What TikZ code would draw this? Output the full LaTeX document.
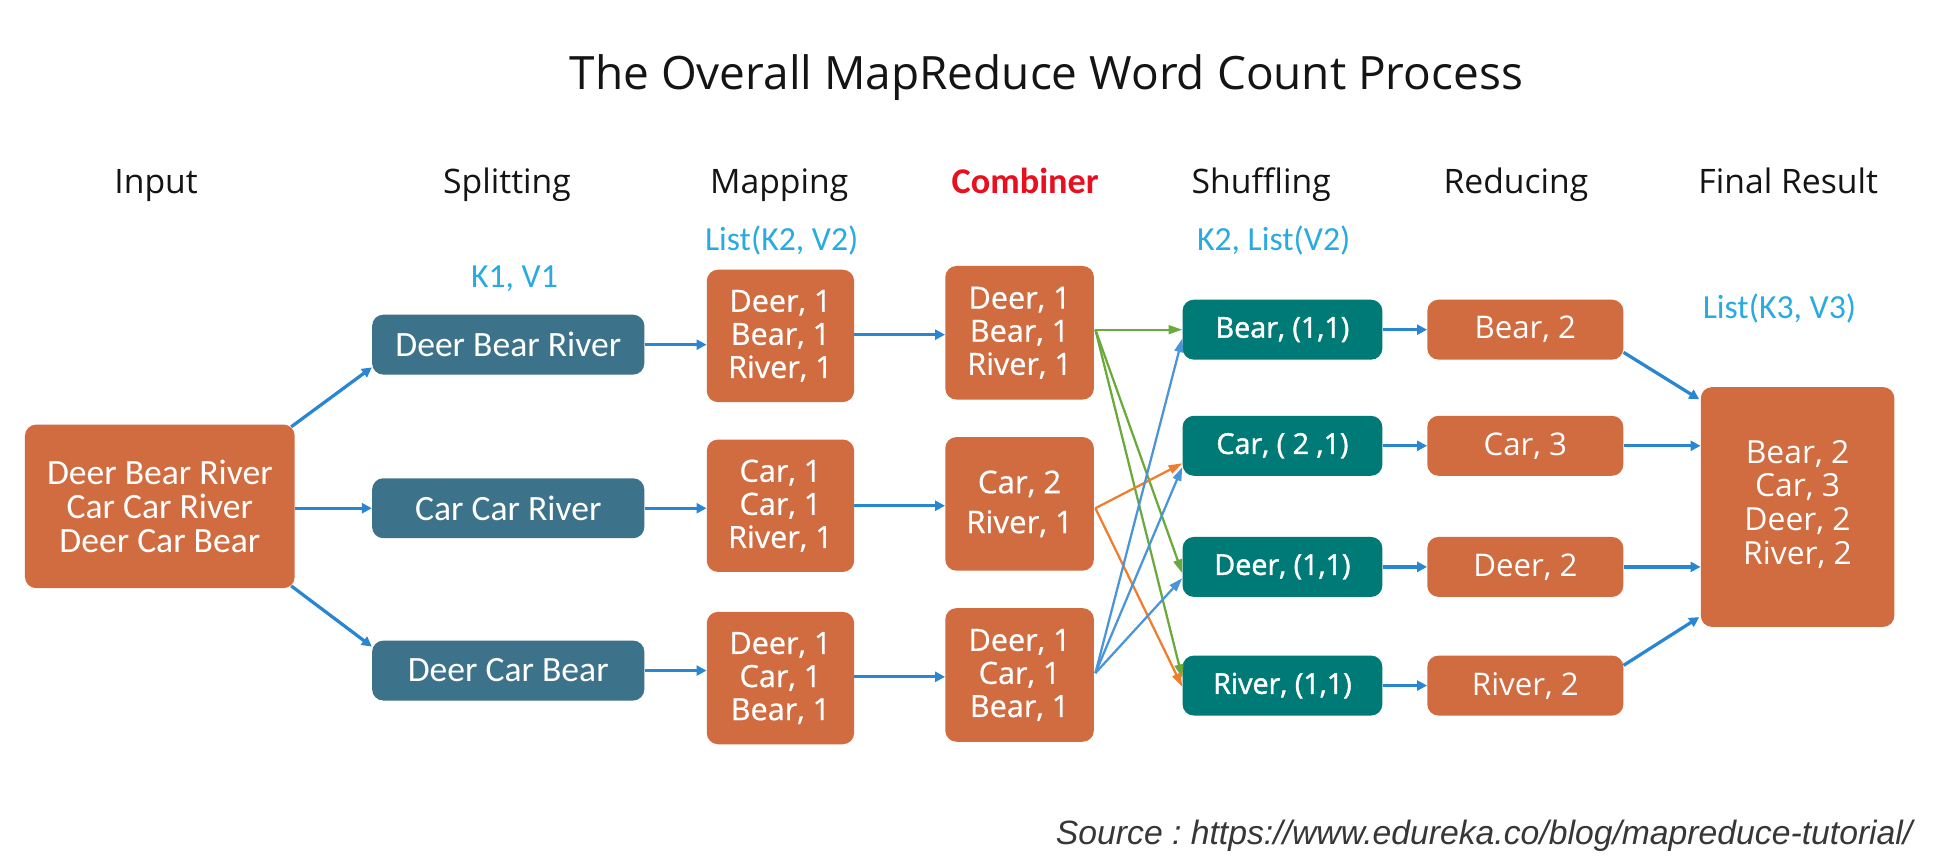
\documentclass[tikz,border=0pt]{standalone}
\usepackage{fontspec}
\setmainfont{Open Sans}
\newfontfamily\carl{Carlito}
\newfontfamily\osmed[FakeBold=0.6]{Open Sans}
\newfontfamily\ossemi[FakeBold=1.4]{Open Sans}
\newfontfamily\srcfont{Liberation Sans}
\usetikzlibrary{arrows.meta}
\definecolor{boxorange}{RGB}{209,107,64}
\definecolor{splitblue}{RGB}{61,114,139}
\definecolor{shufteal}{RGB}{0,122,118}
\definecolor{arrowblue}{RGB}{40,134,210}
\definecolor{crossblue}{RGB}{74,148,218}
\definecolor{crossgreen}{RGB}{106,170,58}
\definecolor{crossorange}{RGB}{240,125,45}
\definecolor{labelblue}{RGB}{41,171,226}
\definecolor{combred}{RGB}{232,16,31}
\definecolor{titlegray}{RGB}{20,20,20}
\tikzset{
  box/.style={rounded corners=9pt, inner sep=0pt, align=center, text=white},
  inbox/.style={box, fill=boxorange, font=\carl\fontsize{28.5}{27}\selectfont},
  splitbox/.style={box, fill=splitblue, minimum width=218pt, minimum height=48pt, font=\carl\fontsize{28.5}{27}\selectfont},
  mapbox/.style={box, fill=boxorange, minimum width=118pt, minimum height=106pt, font=\osmed\fontsize{24.5}{26.5}\selectfont},
  shufbox/.style={box, fill=shufteal, minimum width=160pt, minimum height=48pt, font=\ossemi\fontsize{23}{26}\selectfont},
  redbox/.style={box, fill=boxorange, minimum width=157pt, minimum height=48pt, font=\fontsize{25}{27}\selectfont},
  header/.style={anchor=base, text=titlegray, font=\fontsize{27}{30}\selectfont},
  kvlabel/.style={anchor=base, text=labelblue, font=\carl\fontsize{27}{30}\selectfont},
  flow/.style={draw=arrowblue, line width=2.6pt, -{Triangle[length=8pt,width=8pt]}},
  cross/.style={line width=1.8pt, -{Triangle[length=11pt,width=7pt]}}
}
\begin{document}
\begin{tikzpicture}[x=1pt,y=-1pt]
\useasboundingbox (0,0) rectangle (1568,685.5);
\fill[white] (0,0) rectangle (1568,685.5);

% title and headers
\node[anchor=base, text=titlegray, font=\fontsize{36.8}{40}\selectfont] (title) at (838,72) {The Overall MapReduce Word Count Process};
\node[header] (hInput) at (125,155) {Input};
\node[header] (hSplit) at (406,155) {Splitting};
\node[header] (hMap) at (624,155) {Mapping};
\node[header, text=combred, font=\carl\bfseries\fontsize{29}{30}\selectfont] (hComb) at (821,155) {Combiner};
\node[header] (hShuf) at (1010,155) {Shuffling};
\node[header] (hRed) at (1214,155) {Reducing};
\node[header] (hFinal) at (1432,155) {Final Result};

% key/value labels
\node[kvlabel] (kv1) at (412,230) {K1, V1};
\node[kvlabel] (kv2) at (626,201) {List(K2, V2)};
\node[kvlabel] (kv3) at (1020,201) {K2, List(V2)};
\node[kvlabel] (kv4) at (1425,255) {List(K3, V3)};

% input
\node[inbox, minimum width=216pt, minimum height=131pt] (inp) at (128,405.5) {Deer Bear River\\Car Car River\\Deer Car Bear};

% splitting
\node[splitbox] (s1) at (407,276) {Deer Bear River};
\node[splitbox] (s2) at (407,407) {Car Car River};
\node[splitbox] (s3) at (407,537) {Deer Car Bear};

% mapping
\node[mapbox] (m1) at (625,269) {Deer, 1\\Bear, 1\\River, 1};
\node[mapbox] (m2) at (625,405) {Car, 1\\Car, 1\\River, 1};
\node[mapbox] (m3) at (625,543) {Deer, 1\\Car, 1\\Bear, 1};

% combiner
\node[mapbox, minimum width=119pt, minimum height=107pt] (c1) at (816.5,266.5) {Deer, 1\\Bear, 1\\River, 1};
\node[mapbox, minimum width=119pt, minimum height=107pt, font=\osmed\fontsize{25}{32}\selectfont] (c2) at (816.5,403.5) {Car, 2\\River, 1};
\node[mapbox, minimum width=119pt, minimum height=107pt] (c3) at (816.5,540.5) {Deer, 1\\Car, 1\\Bear, 1};

% shuffling
\node[shufbox] (sh1) at (1027,264) {Bear, (1,1)};
\node[shufbox] (sh2) at (1027,357) {Car, ( 2 ,1)};
\node[shufbox] (sh3) at (1027,454) {Deer, (1,1)};
\node[shufbox] (sh4) at (1027,549) {River, (1,1)};

% reducing
\node[redbox] (r1) at (1221.5,264) {Bear, 2};
\node[redbox] (r2) at (1221.5,357) {Car, 3};
\node[redbox] (r3) at (1221.5,454) {Deer, 2};
\node[redbox] (r4) at (1221.5,549) {River, 2};

% final
\node[box, fill=boxorange, minimum width=155pt, minimum height=192pt, font=\fontsize{25.5}{27}\selectfont] (fin) at (1439.5,406) {\raisebox{9pt}{\begin{tabular}{@{}c@{}}Bear, 2\\[0pt]Car, 3\\[0pt]Deer, 2\\[0pt]River, 2\end{tabular}}};

% input -> splitting
\draw[flow] ([shift={(-3,2)}]inp.north east) -- ([shift={(0,-6)}]s1.south west);
\draw[flow] (inp.east |- s2.west) -- (s2.west);
\draw[flow] ([shift={(-3,-2)}]inp.south east) -- ([shift={(0,5)}]s3.north west);

% splitting -> mapping
\draw[flow] (s1.east) -- (s1.east -| m1.west);
\draw[flow] (s2.east) -- (s2.east -| m2.west);
\draw[flow] (s3.east) -- (s3.east -| m3.west);

% mapping -> combiner
\draw[flow] ([shift={(0,-1)}]m1.east) -- ([shift={(0,-1)}]m1.east -| c1.west);
\draw[flow] (m2.east) -- (m2.east -| c2.west);
\draw[flow] ([shift={(0,-1)}]m3.east) -- ([shift={(0,-1)}]m3.east -| c3.west);

% combiner -> shuffling
\coordinate (o1) at ([shift={(1,-2.5)}]c1.east);
\coordinate (o2) at ([shift={(1,3.5)}]c2.east);
\coordinate (o3) at ([shift={(1,-1.5)}]c3.east);
\draw[cross, draw=crossgreen, fill=crossgreen] (o1) -- (sh1.west);
\draw[cross, draw=crossgreen, fill=crossgreen] (o1) -- ([shift={(0,5)}]sh3.west);
\draw[cross, draw=crossgreen, fill=crossgreen] (o1) -- ([shift={(0,-6)}]sh4.west);
\draw[cross, draw=crossorange, fill=crossorange] (o2) -- ([shift={(0,14)}]sh2.west);
\draw[cross, draw=crossorange, fill=crossorange] (o2) -- ([shift={(0,1)}]sh4.west);
\draw[cross, draw=crossblue, fill=crossblue] (o3) -- ([shift={(0,7)}]sh1.west);
\draw[cross, draw=crossblue, fill=crossblue] (o3) -- ([shift={(0,17)}]sh2.west);
\draw[cross, draw=crossblue, fill=crossblue] (o3) -- ([shift={(0,9)}]sh3.west);

% shuffling -> reducing
\draw[flow] (sh1.east) -- (r1.west);
\draw[flow] (sh2.east) -- (r2.west);
\draw[flow] (sh3.east) -- (r3.west);
\draw[flow] (sh4.east) -- (r4.west);

% reducing -> final
\draw[flow] ([shift={(0,-6)}]r1.south east) -- ([shift={(-1,10)}]fin.north west);
\draw[flow] (r2.east) -- (r2.east -| fin.west);
\draw[flow] (r3.east) -- (r3.east -| fin.west);
\draw[flow] ([shift={(0,8)}]r4.north east) -- ([shift={(-1,-8)}]fin.south west);

% source
\node[anchor=base east, text=titlegray!85, font=\srcfont\itshape\fontsize{27}{30}\selectfont] (src) at (1535,676) {\frenchspacing Source : https://www.edureka.co/blog/mapreduce-tutorial/};
\end{tikzpicture}
\end{document}
